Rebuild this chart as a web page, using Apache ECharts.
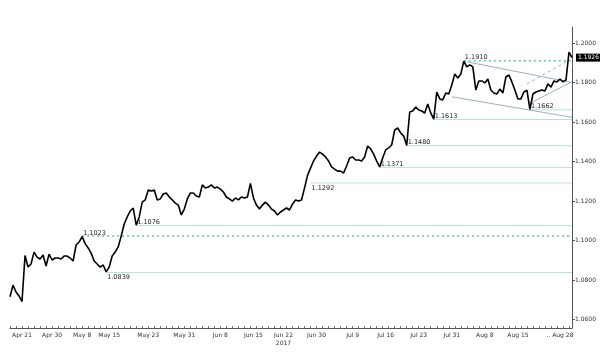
<!DOCTYPE html>
<html>
<head>
<meta charset="utf-8">
<title>EUR/USD 2017</title>
<script src="https://cdn.jsdelivr.net/npm/echarts@6/dist/echarts.min.js"></script>
<style>
  html, body { margin: 0; padding: 0; background: #fff; }
  #chart { width: 600px; height: 352px; }
</style>
</head>
<body>
<div id="chart"></div>
<script>
// price, sampled every half trading day (approx.)
const prices = [
  1.0716, 1.0775, 1.0740, 1.0720, 1.0692, 1.0925, 1.0867, 1.0882, 1.0942, 1.0917,
  1.0907, 1.0927, 1.0872, 1.0932, 1.0902, 1.0912, 1.0912, 1.0907, 1.0922, 1.0922,
  1.0912, 1.0897, 1.0978, 1.0993, 1.1020, 1.0985, 1.0963, 1.0937, 1.0897, 1.0882,
  1.0866, 1.0877, 1.0842, 1.0866, 1.0922, 1.0942, 1.0968, 1.1023, 1.1084, 1.1120,
  1.1150, 1.1165, 1.1078, 1.1120, 1.1195, 1.1206, 1.1256, 1.1251, 1.1256, 1.1206,
  1.1211, 1.1236, 1.1241, 1.1221, 1.1206, 1.1190, 1.1180, 1.1130, 1.1160, 1.1211,
  1.1241, 1.1241, 1.1226, 1.1221, 1.1282, 1.1266, 1.1271, 1.1282, 1.1266, 1.1271,
  1.1261, 1.1246, 1.1221, 1.1211, 1.1200, 1.1216, 1.1206, 1.1221, 1.1216, 1.1221,
  1.1290, 1.1216, 1.1180, 1.1160, 1.1180, 1.1195, 1.1180, 1.1160, 1.1150, 1.1130,
  1.1145, 1.1155, 1.1165, 1.1155, 1.1185, 1.1206, 1.1200, 1.1206, 1.1266, 1.1330,
  1.1367, 1.1403, 1.1428, 1.1448, 1.1438, 1.1423, 1.1403, 1.1373, 1.1362, 1.1352,
  1.1352, 1.1342, 1.1378, 1.1418, 1.1423, 1.1408, 1.1408, 1.1403, 1.1423, 1.1479,
  1.1464, 1.1438, 1.1403, 1.1373, 1.1418, 1.1459, 1.1469, 1.1484, 1.1560, 1.1570,
  1.1545, 1.1529, 1.1482, 1.1651, 1.1656, 1.1676, 1.1661, 1.1656, 1.1646, 1.1691,
  1.1646, 1.1615, 1.1752, 1.1717, 1.1712, 1.1747, 1.1742, 1.1787, 1.1843, 1.1823,
  1.1843, 1.1908, 1.1879, 1.1889, 1.1879, 1.1762, 1.1808, 1.1808, 1.1798, 1.1818,
  1.1762, 1.1747, 1.1742, 1.1767, 1.1747, 1.1828, 1.1838, 1.1803, 1.1762, 1.1717,
  1.1717, 1.1752, 1.1762, 1.1664, 1.1742, 1.1752, 1.1757, 1.1762, 1.1757, 1.1793,
  1.1777, 1.1808, 1.1803, 1.1818, 1.1803, 1.1813, 1.1954, 1.1926
]

// x axis labels and the sample they sit on
const tickLabels = ['Apr 21', 'Apr 30', 'May 8', 'May 15', 'May 23', 'May 31', 'Jun 8', 'Jun 15', 'Jun 22\n2017',
  'Jun 30', 'Jul 9', 'Jul 16', 'Jul 23', 'Jul 31', 'Aug 8', 'Aug 15', '.. Aug 28']
const tickIndex = [4, 14, 24, 33, 46, 58, 70, 81, 91, 102, 114, 125, 136, 147, 158, 169, 183]

const yTicks = [1.06, 1.08, 1.10, 1.12, 1.14, 1.16, 1.18, 1.20]

// support / resistance levels and where they start
const levelValues = [1.0839, 1.1023, 1.1076, 1.1292, 1.1371, 1.1480, 1.1613, 1.1662, 1.1910]
const levelStart = [32, 24, 42, 100, 123, 132, 141, 173, 151]
const dottedLevels = [1.1023, 1.1910]
const labelBelow = [1.0839, 1.1292]

// trend lines: [startIndex, startValue, endIndex, endValue]
const trendUpper = [152, 1.1905, 187, 1.1800]
const trendLower = [147, 1.1728, 187, 1.1624]
const trendRising = [173, 1.1695, 187, 1.1804]
const trendDashed = [172, 1.1793, 185, 1.1904]

const categories = prices.map(() => '')
tickIndex.forEach((idx, i) => { categories[idx] = tickLabels[i] })

const lastIdx = prices.length - 1

const chart = echarts.init(document.getElementById('chart'))

const levelSeries = levelValues.map((lv, i) => {
  const dotted = dottedLevels.indexOf(lv) > -1
  const below = labelBelow.indexOf(lv) > -1
  return {
    type: 'line',
    silent: true,
    symbol: 'none',
    z: 1,
    lineStyle: dotted
      ? { color: '#5cc79a', width: 1.5, type: [2, 3] }
      : { color: '#b4e3cf', width: 1 },
    data: [[levelStart[i], lv], [lastIdx, lv]],
    markPoint: {
      silent: true,
      symbol: 'circle',
      symbolSize: 2,
      itemStyle: { color: 'rgba(0,0,0,0)' },
      label: {
        show: true,
        position: 'right',
        distance: 0,
        offset: [0, below ? 5 : -3],
        formatter: lv.toFixed(4),
        fontFamily: 'DejaVu Sans',
        fontSize: 6.5,
        color: '#222'
      },
      data: [{ coord: [levelStart[i], lv] }]
    }
  }
})

const trendSeries = [trendUpper, trendLower, trendRising, trendDashed].map((t, i) => ({
  type: 'line',
  silent: true,
  symbol: 'none',
  z: 2,
  lineStyle: {
    color: '#9aafc6',
    width: 1,
    type: i === 3 ? [3, 3] : 'solid'
  },
  data: [[t[0], t[1]], [t[2], t[3]]]
}))

chart.setOption({
  animation: false,
  backgroundColor: '#fff',
  grid: {
    left: 10,
    right: 28,
    top: 27,
    bottom: 24
  },
  xAxis: {
    type: 'category',
    data: categories,
    boundaryGap: false,
    axisLine: { lineStyle: { color: '#555', width: 1 } },
    axisTick: {
      inside: true,
      length: 2,
      interval: (index) => index % 2 === 0,
      lineStyle: { color: '#777' }
    },
    axisLabel: {
      interval: (index, value) => value !== '',
      hideOverlap: false,
      showMaxLabel: true,
      fontFamily: 'DejaVu Sans',
      fontSize: 6,
      lineHeight: 8,
      margin: 3,
      color: '#333'
    },
    splitLine: { show: false }
  },
  yAxis: {
    type: 'value',
    position: 'right',
    min: 1.0558,
    max: 1.2081,
    axisLine: { show: true, lineStyle: { color: '#555', width: 1 } },
    axisTick: {
      show: true,
      length: 3,
      customValues: yTicks,
      lineStyle: { color: '#555' }
    },
    axisLabel: {
      customValues: yTicks,
      formatter: (v) => v.toFixed(4),
      fontFamily: 'DejaVu Sans',
      fontSize: 6,
      margin: 3,
      color: '#333'
    },
    splitLine: { show: false }
  },
  series: [
    ...levelSeries,
    ...trendSeries,
    {
      type: 'line',
      name: 'EUR/USD',
      symbol: 'none',
      z: 5,
      data: prices,
      lineStyle: { color: '#000', width: 1.6 },
      endLabel: {
        show: true,
        distance: 4,
        formatter: (p) => p.value.toFixed(4),
        backgroundColor: '#000',
        color: '#fff',
        padding: [1, 2],
        fontFamily: 'DejaVu Sans',
        fontSize: 6
      }
    }
  ]
})
</script>
</body>
</html>
